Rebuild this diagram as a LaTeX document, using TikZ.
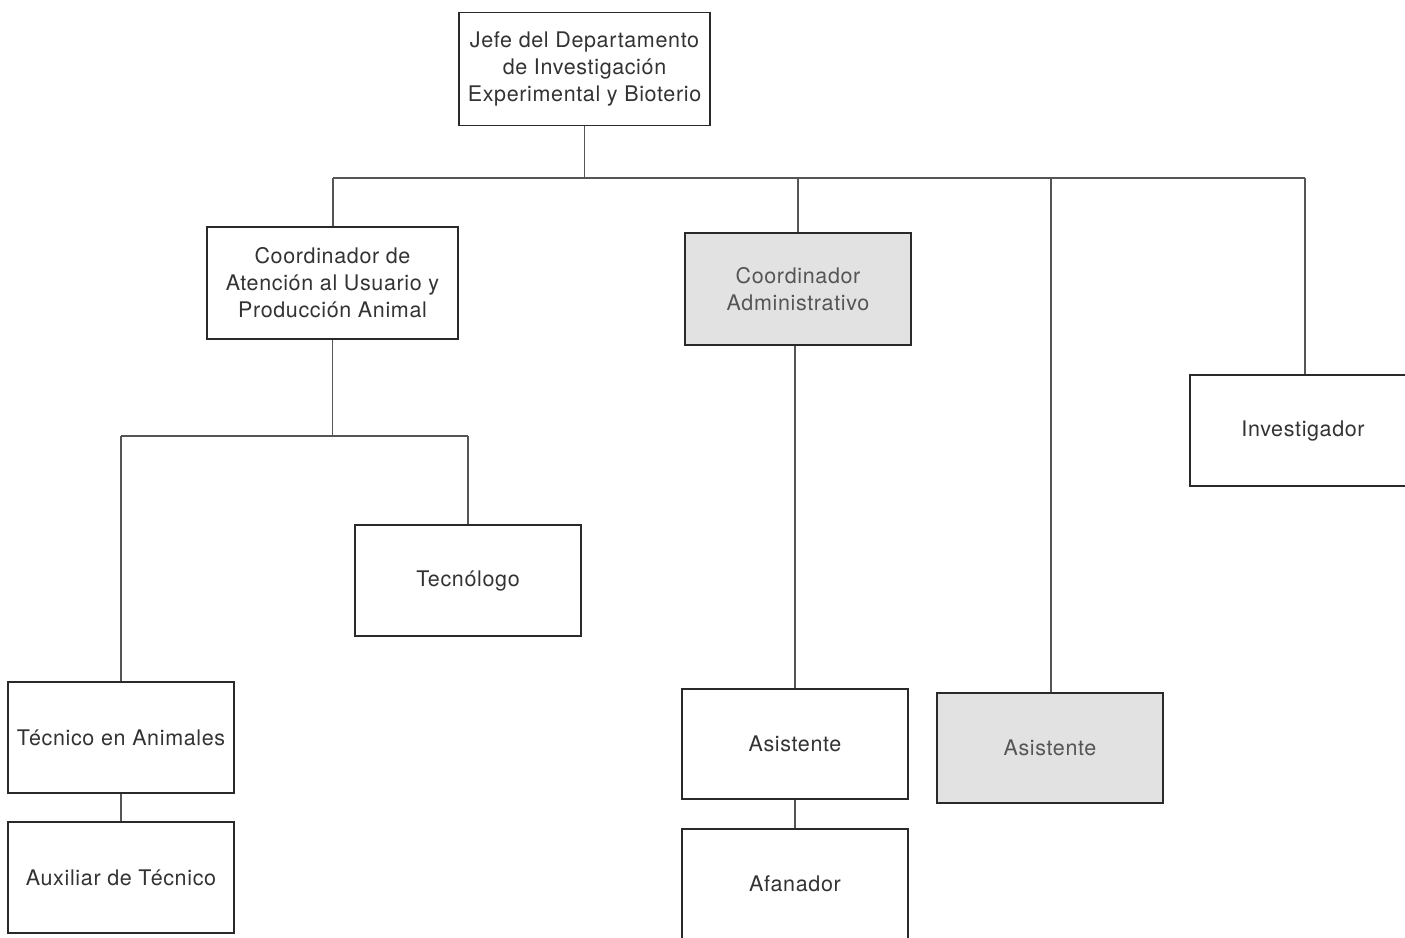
\documentclass[tikz,border=0pt]{standalone}
\usepackage{fontspec}
\setmainfont[LetterSpace=3]{TeX Gyre Heros}
\definecolor{boxline}{HTML}{2A2A2A}
\definecolor{txt}{HTML}{333333}
\definecolor{txtg}{HTML}{555555}
\definecolor{grayfill}{HTML}{E2E2E2}
\begin{document}
\begin{tikzpicture}[x=1pt,y=-1pt,
  box/.style={draw=boxline,line width=1.8pt,fill=white,align=center,text=txt,
    font=\fontsize{21.5}{27}\selectfont,inner sep=0pt},
  graybox/.style={box,fill=grayfill,text=txtg},
  conn/.style={draw=boxline!80,line width=1.6pt}]
\useasboundingbox (0,0) rectangle (1405,937);
\clip (0,0) rectangle (1405,937);
\fill[white] (0,0) rectangle (1405,937);

\node[box,minimum width=251pt,minimum height=113pt] (jefe) at (584.5,69)
  {Jefe del Departamento\\de Investigación\\Experimental y Bioterio};
\node[box,minimum width=251pt,minimum height=112pt] (coorA) at (332.5,283)
  {Coordinador de\\Atención al Usuario y\\Producción Animal};
\node[graybox,minimum width=226pt,minimum height=112pt] (coorAdm) at (798,289)
  {Coordinador\\Administrativo};
\node[box,minimum width=226pt,minimum height=111pt] (inv) at (1303,430.5)
  {Investigador};
\node[box,minimum width=226pt,minimum height=111pt] (tecno) at (468,580.5)
  {Tecnólogo};
\node[box,minimum width=226pt,minimum height=111pt] (tecA) at (121,737.5)
  {Técnico en Animales};
\node[box,minimum width=226pt,minimum height=111pt] (aux) at (121,877.5)
  {Auxiliar de Técnico};
\node[box,minimum width=226pt,minimum height=110pt] (asis1) at (795,744)
  {Asistente};
\node[box,minimum width=226pt,minimum height=110pt] (afan) at (795,884)
  {Afanador};
\node[graybox,minimum width=226pt,minimum height=110pt] (asis2) at (1050,748)
  {Asistente};

% top bus
\coordinate (busC) at (584.5,178);
\coordinate (busL) at (333,178);
\coordinate (busM) at (798,178);
\coordinate (busA) at (1051,178);
\coordinate (busR) at (1305,178);
\draw[conn] (jefe.south) -- (busC);
\draw[conn] (busL) -- (busR);
\draw[conn] (busL) -- (coorA.north -| busL);
\draw[conn] (busM) -- (coorAdm.north -| busM);
\draw[conn] (busA) -- (asis2.north -| busA);
\draw[conn] (busR) -- (inv.north -| busR);

% second bus
\coordinate (b2C) at (332.5,436);
\coordinate (b2L) at (121,436);
\coordinate (b2R) at (468,436);
\draw[conn] (coorA.south) -- (b2C);
\draw[conn] (b2L) -- (b2R);
\draw[conn] (b2L) -- (tecA.north);
\draw[conn] (b2R) -- (tecno.north);
\draw[conn] (tecA.south) -- (aux.north);

\draw[conn] (coorAdm.south -| asis1.north) -- (asis1.north);
\draw[conn] (asis1.south) -- (afan.north);
\end{tikzpicture}
\end{document}
